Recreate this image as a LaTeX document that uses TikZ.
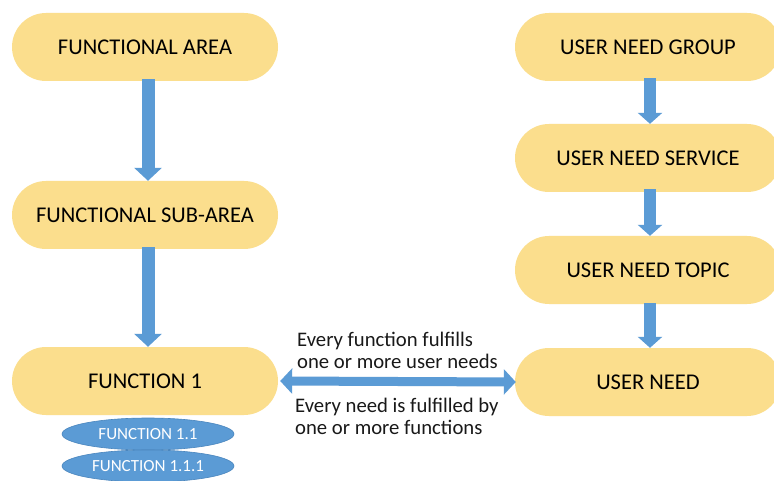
\documentclass[tikz,border=0pt]{standalone}
\usepackage{fontspec}
\setmainfont{Carlito}
\usetikzlibrary{arrows.meta,shapes.geometric}
\definecolor{boxyellow}{HTML}{FBDE8D}
\definecolor{arrowblue}{HTML}{5B9BD5}
\definecolor{ellborder}{HTML}{4A86BE}
\tikzset{
  stadium/.style={fill=boxyellow, draw=none, rectangle, rounded corners=34pt,
    minimum width=266pt, minimum height=68pt, inner sep=0pt,
    font=\fontsize{22.5}{25}\selectfont, text=black},
  subfn/.style={ellipse, fill=arrowblue, draw=ellborder, line width=0.6pt,
    minimum width=172pt, minimum height=32pt, inner sep=0pt,
    font=\fontsize{17}{19}\selectfont, text=white},
  bigdown/.style={draw=arrowblue, line width=13pt,
    -{Triangle[width=27pt,length=13pt]}},
  smalldown/.style={draw=arrowblue, line width=12pt,
    -{Triangle[width=24pt,length=11pt]}},
  biarrow/.style={draw=arrowblue, line width=9pt,
    {Triangle[width=25pt,length=12pt]}-{Triangle[width=25pt,length=12pt]}},
  note/.style={align=left, inner sep=0pt, font=\fontsize{20.7}{21.5}\selectfont, text=black!90}
}
\begin{document}
\begin{tikzpicture}[x=1pt,y=-1pt]
\useasboundingbox (0,0) rectangle (774,481);
\clip (0,0) rectangle (774,481);
\fill[white] (0,0) rectangle (774,481);
% left column
\node[stadium] (fa) at (145,47) {FUNCTIONAL AREA};
\node[stadium] (fsa) at (145,215) {FUNCTIONAL SUB-AREA};
\node[stadium] (f1) at (145,381) {FUNCTION 1};
\node[subfn] (f11) at (148,434) {FUNCTION 1.1};
\node[subfn] (f111) at (148,466) {FUNCTION 1.1.1};
% right column
\node[stadium] (ung) at (648,47) {USER NEED GROUP};
\node[stadium] (uns) at (648,158) {USER NEED SERVICE};
\node[stadium] (unt) at (648,270) {USER NEED TOPIC};
\node[stadium] (un) at (648,382) {USER NEED};
% arrows
\draw[bigdown] ([yshift=2pt]fa.south -| 148,0) -- (fsa.north -| 148,0);
\draw[bigdown] ([yshift=2pt]fsa.south -| 148,0) -- (f1.north -| 148,0);
\draw[smalldown] ([yshift=3pt]ung.south -| 650,0) -- (uns.north -| 650,0);
\draw[smalldown] ([yshift=3pt]uns.south -| 650,0) -- (unt.north -| 650,0);
\draw[smalldown] ([yshift=1pt]unt.south -| 650,0) -- (un.north -| 650,0);
\draw[biarrow] ([xshift=2pt]f1.east) -- ([xshift=1pt]un.west);
% notes
\node[note, anchor=base west] (n1) at (297,368) {Every function fulfills\\one or more user needs};
\node[note, anchor=base west] (n2) at (295,434) {Every need is fulfilled by\\one or more functions};
\end{tikzpicture}
\end{document}
